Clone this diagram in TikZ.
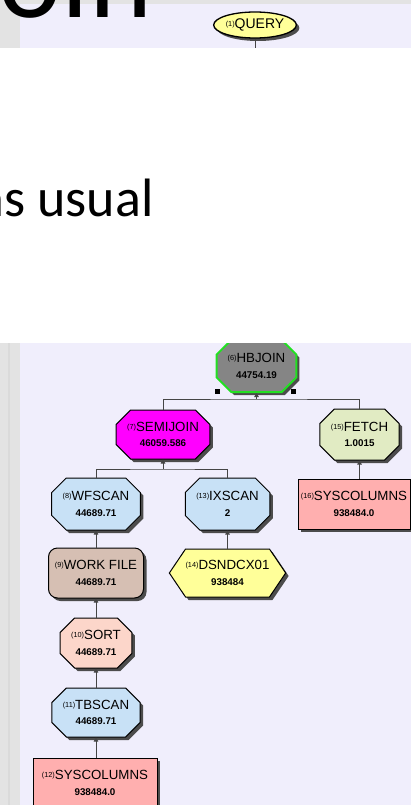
\documentclass[tikz,border=0pt]{standalone}
\usepackage{fontspec}
\setmainfont{Liberation Sans}
\newfontfamily\slidefont{Carlito}
\usetikzlibrary{shapes.misc,shapes.geometric,shapes.symbols,shadows,arrows.meta}

\definecolor{panelbg}{HTML}{F0EEFC}
\definecolor{sidegray}{HTML}{E3E3E3}
\definecolor{qyellow}{HTML}{FFFF99}
\definecolor{hbgray}{HTML}{858585}
\definecolor{hbgreen}{HTML}{22E022}
\definecolor{semimag}{HTML}{FF00FF}
\definecolor{fetchgreen}{HTML}{E1EBC3}
\definecolor{tablepink}{HTML}{FFAFAF}
\definecolor{scanblue}{HTML}{C8E1F6}
\definecolor{wfbrown}{HTML}{D6BFB3}
\definecolor{sortpeach}{HTML}{FCD6CA}
\definecolor{linkgray}{HTML}{454545}

% operator label: small step number, operator name, cost below
\newcommand\oplbl[3]{{\fontsize{7.3}{8}\selectfont\raisebox{2.3pt}{(#1)}}#2\\{\bfseries\fontsize{9.8}{15.5}\selectfont #3}}

\tikzset{
  opbase/.style={draw=black, line width=1pt, inner sep=0pt, align=center,
    text=black, font=\fontsize{13.3}{15.5}\selectfont,
    drop shadow={shadow xshift=3pt, shadow yshift=-3pt, fill=black!70, opacity=1}},
  octop/.style={opbase, chamfered rectangle, chamfered rectangle angle=45,
    chamfered rectangle xsep=11pt},
  tableop/.style={opbase, rectangle},
  workop/.style={opbase, rectangle, rounded corners=9pt},
  indexop/.style={opbase, signal, signal to=west and east, signal pointer angle=112},
  link/.style={draw=linkgray, line width=1pt},
  uplink/.style={link, -{Triangle[length=4pt,width=4.5pt]}},
  handle/.style={fill=black, inner sep=0pt, minimum size=5pt},
}

\begin{document}
\begin{tikzpicture}[x=1pt, y=-1pt]
\useasboundingbox (0,0) rectangle (411,805);

% slide background and the two explain panels
\fill[sidegray] (0,0) rectangle (411,48);
\fill[panelbg] (20,4) rectangle (411,48);
\fill[sidegray] (0,343) rectangle (20,805);
\fill[sidegray!96!black] (8,343) rectangle (10,805);
\fill[panelbg] (20,343) rectangle (411,805);

% upper panel: query root
\node[opbase, ellipse, fill=qyellow, line width=1.3pt, minimum width=70pt, minimum height=26pt,
      font=\fontsize{14}{14}\selectfont] (query) at (255,25)
      {{\fontsize{7.3}{8}\selectfont\raisebox{2.3pt}{(1)}}QUERY};
\coordinate (qout) at (255,48);
\draw[link] (query.south) -- (qout);

% lower panel: access plan
\node[octop, fill=hbgray, draw=hbgreen, line width=2pt, minimum width=73pt, minimum height=52pt]
  (hb) at (256.5,366) {\oplbl{6}{HBJOIN}{44754.19}};
\node[handle] (hl) at (217.5,391.5) {};
\node[handle] (hr) at (293,391.5) {};

\node[octop, fill=semimag, minimum width=85pt, minimum height=49pt]
  (semi) at (163,434.5) {\oplbl{7}{SEMIJOIN}{46059.586}};
\node[octop, fill=fetchgreen, minimum width=75pt, minimum height=51pt]
  (fetch) at (359.5,434.5) {\oplbl{15}{FETCH}{1.0015}};
\node[tableop, fill=tablepink, minimum width=112pt, minimum height=50pt]
  (sys16) at (354,504) {\oplbl{16}{SYSCOLUMNS}{938484.0}};

\node[octop, fill=scanblue, minimum width=82pt, minimum height=52pt]
  (wf) at (96,504) {\oplbl{8}{WFSCAN}{44689.71}};
\node[octop, fill=scanblue, minimum width=81pt, minimum height=52pt]
  (ix) at (227.5,504) {\oplbl{13}{IXSCAN}{2}};

\node[workop, fill=wfbrown, minimum width=95pt, minimum height=50pt]
  (wfile) at (96,573) {\oplbl{9}{WORK FILE}{44689.71}};
\node[indexop, fill=qyellow, minimum width=113pt, minimum height=48pt]
  (dsn) at (227.5,573) {\oplbl{14}{DSNDCX01}{938484}};

\node[octop, fill=sortpeach, minimum width=67pt, minimum height=50pt]
  (sort) at (96,643) {\oplbl{10}{SORT}{44689.71}};
\node[octop, fill=scanblue, minimum width=84pt, minimum height=49pt]
  (tb) at (96,712.5) {\oplbl{11}{TBSCAN}{44689.71}};
\node[tableop, fill=tablepink, minimum width=124pt, minimum height=50pt]
  (sys12) at (95,783) {\oplbl{12}{SYSCOLUMNS}{938484.0}};

% connectors, child to parent
\coordinate (j6) at (256.5,399);
\draw[link] (semi.north) |- (j6) -| (fetch.north);
\draw[uplink] (j6) -- (hb.south);
\coordinate (j7) at (163,469);
\draw[link] (wf.north) |- (j7) -| (ix.north);
\draw[uplink] (j7) -- (semi.south);
\draw[uplink] (sys16.north -| fetch.south) -- (fetch.south);
\draw[uplink] (wfile.north) -- (wf.south);
\draw[uplink] (dsn.north) -- (ix.south);
\draw[uplink] (sort.north) -- (wfile.south);
\draw[uplink] (tb.north) -- (sort.south);
\draw[uplink] (sys12.north -| tb.south) -- (tb.south);

% slide area between the panels and the slide text
\fill[white] (0,48) rectangle (411,343);
\node[anchor=base west, inner sep=0pt, font=\slidefont\fontsize{120}{120}\selectfont]
  (title) at (-40,17.5) {Join};
\node[anchor=base west, inner sep=0pt, font=\slidefont\fontsize{54}{54}\selectfont]
  (bullet) at (-22,216) {as usual};
\end{tikzpicture}
\end{document}
